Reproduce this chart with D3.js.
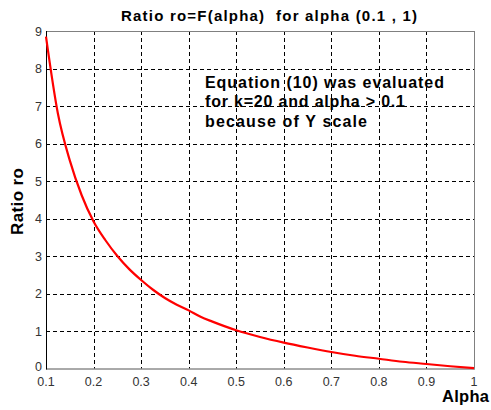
<!DOCTYPE html>
<html><head><meta charset="utf-8">
<script src="https://cdn.jsdelivr.net/npm/d3@7"></script>
<style>body{margin:0;background:#fff}svg{display:block}</style>
</head><body>
<svg id="c" width="491" height="410"></svg>
<script>
const alphaValues = [0.100,0.125,0.150,0.175,0.200,0.225,0.250,0.275,0.300,0.325,0.350,0.375,0.400,0.425,0.450,0.475,0.500,0.550,0.600,0.650,0.700,0.750,0.800,0.850,0.900,0.950,1.000];
const ratioValues = [8.85,6.80,5.55,4.62,3.92,3.42,3.00,2.65,2.36,2.10,1.88,1.70,1.55,1.38,1.25,1.13,1.02,0.84,0.69,0.56,0.44,0.34,0.26,0.18,0.12,0.06,0.01];
const xTicks = [0.1,0.2,0.3,0.4,0.5,0.6,0.7,0.8,0.9,1];
const xTickLabels = ["0.1","0.2","0.3","0.4","0.5","0.6","0.7","0.8","0.9","1"];
const yTicks = [0,1,2,3,4,5,6,7,8,9];
const titleText = "Ratio ro=F(alpha)  for alpha (0.1 , 1)";
const xLabel = "Alpha";
const yLabel = "Ratio ro";
const noteLines = ["Equation (10) was evaluated","for k=20 and alpha > 0.1","because of Y scale"];
const noteWidths = [239,200,162];

const FONT = "Arial, Liberation Sans, sans-serif";
const svg = d3.select("#c");
const L=46, R=474, T=31, B=368.5;
const x = d3.scaleLinear().domain([0.1,1]).range([L,R]);
const y = d3.scaleLinear().domain([0,9]).range([B,T]);

// grid
const g = svg.append("g");
g.selectAll("line.vx").data(xTicks.slice(1,-1)).join("line")
  .attr("x1",d=>Math.round(x(d))+0.5).attr("x2",d=>Math.round(x(d))+0.5)
  .attr("y1",T).attr("y2",B).attr("stroke","#000").attr("stroke-dasharray","4,3");
g.selectAll("line.hy").data(yTicks.slice(1,-1)).join("line")
  .attr("y1",d=>Math.round(y(d))+0.5).attr("y2",d=>Math.round(y(d))+0.5)
  .attr("x1",L).attr("x2",R).attr("stroke","#000").attr("stroke-dasharray","4,3");

// frame
svg.append("line").attr("x1",L).attr("x2",R).attr("y1",T+0.5).attr("y2",T+0.5).attr("stroke","#808080");
svg.append("line").attr("x1",R+0.5).attr("x2",R+0.5).attr("y1",T).attr("y2",B).attr("stroke","#808080");
svg.append("line").attr("x1",L).attr("x2",R+1).attr("y1",B+0.5).attr("y2",B+0.5).attr("stroke","#555");
svg.append("line").attr("x1",L+0.5).attr("x2",L+0.5).attr("y1",T).attr("y2",B+1).attr("stroke","#000");

// tick labels
svg.selectAll("text.xt").data(xTicks).join("text")
  .attr("x",d=>x(d)).attr("y",385.5).attr("text-anchor","middle")
  .attr("font-family",FONT).attr("font-size",12.5).attr("fill","#333")
  .text((d,i)=>xTickLabels[i]);
svg.selectAll("text.yt").data(yTicks).join("text")
  .attr("x",42).attr("y",d=>d===0 ? y(d)+2.5 : y(d)+4.5).attr("text-anchor","end")
  .attr("font-family",FONT).attr("font-size",12.5).attr("fill","#333")
  .text(d=>d);

// curve
const line = d3.line().x((d,i)=>x(alphaValues[i])).y(d=>y(d)).curve(d3.curveMonotoneX);
svg.append("path").datum(ratioValues).attr("d",line).attr("fill","none")
  .attr("stroke","#ff0000").attr("stroke-width",2.2);

// title
svg.append("text").attr("x",121).attr("y",21)
  .attr("font-family",FONT).attr("font-weight","bold").attr("font-size",15)
  .attr("textLength",296).attr("lengthAdjust","spacing")
  .attr("xml:space","preserve").style("white-space","pre").text(titleText);

// axis labels
svg.append("text").attr("x",442).attr("y",402)
  .attr("font-family",FONT).attr("font-weight","bold").attr("font-size",16.5)
  .attr("textLength",47).attr("lengthAdjust","spacing")
  .text(xLabel);
svg.append("text").attr("transform","translate(23,235) rotate(-90)")
  .attr("font-family",FONT).attr("font-weight","bold").attr("font-size",17)
  .attr("textLength",67).attr("lengthAdjust","spacing")
  .text(yLabel);

// annotation
svg.selectAll("text.note").data(noteLines).join("text")
  .attr("x",205).attr("y",(d,i)=>88+i*19.3)
  .attr("font-family",FONT).attr("font-weight","bold").attr("font-size",16)
  .attr("textLength",(d,i)=>noteWidths[i]).attr("lengthAdjust","spacing")
  .text(d=>d);
</script>
</body></html>
